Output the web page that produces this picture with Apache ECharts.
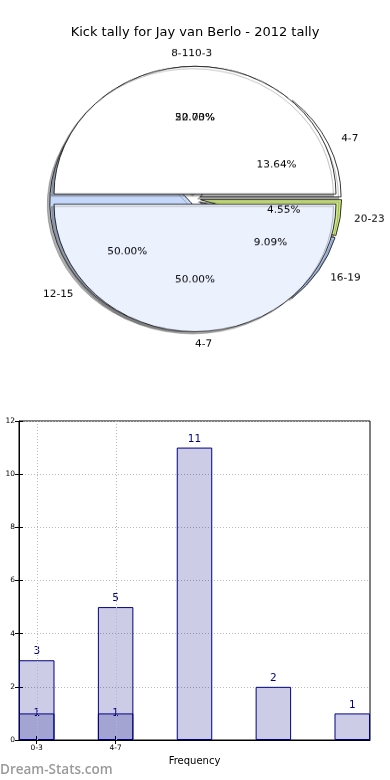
<!DOCTYPE html>
<html><head><meta charset="utf-8">
<script src="https://cdn.jsdelivr.net/npm/echarts@6/dist/echarts.min.js"></script>
<style>
html,body{margin:0;padding:0;background:#fff;}
#main{position:absolute;left:0;top:0;width:390px;height:780px;}
#pie{position:absolute;left:0;top:0;width:390px;height:400px;transform:scaleY(0.905);transform-origin:0 0;pointer-events:none;}
</style></head><body>
<div id="main"></div><div id="pie"></div>
<script>
// ---- data ----
const titleText = 'Kick tally for Jay van Berlo - 2012 tally';
const pieLabelsA = ['4-7', '8-11', '12-15', '16-19', '20-23'];
const pieValuesA = [3, 5, 11, 2, 1];
const pieLabelsB = ['0-3', '4-7'];
const pieValuesB = [1, 1];
const barValues = [3, 5, 11, 2, 1];
const barOverlayValues = [1, 1];
const xTickLabels = ['0-3', '4-7'];
const yMin = 0, yMax = 12, yStep = 2;
const xAxisName = 'Frequency';
const yAxisName = 'Times Kicked';
const watermark = 'Dream-Stats.com';

// ---- styles ----
const pieColorsA = ['#ffffff', '#ffffff', '#c5d8fb', '#b0c8f2', '#cfeb7f'];
const pieColorsB = ['#ffffff', '#ebf1fd'];
const FONT = 'DejaVu Sans';
const R = 141, CX = 195, CY = 199 / 0.905, EXPLODE = 5.6;
const barFill = 'rgba(0,0,128,0.2)';
const navy = '#000080';

// ---- pie chart ----
function sum(a){return a.reduce((s,v)=>s+v,0);}
function pieSeries(labels, values, colors, topAlign){
  const total = sum(values);
  return [{
    type:'pie', center:[CX, CY], radius:[0, R], startAngle:0, clockwise:false,
    selectedMode:'multiple', selectedOffset:EXPLODE, avoidLabelOverlap:false,
    labelLayout:function(p){
      const r = p.labelRect;
      if (Math.abs(r.x - CX) < 2 || Math.abs(r.x + r.width - CX) < 2) return {align: topAlign, hideOverlap:false};
      return {hideOverlap:false};
    },
    emphasis:{disabled:true}, animation:false, silent:true,
    data: labels.map((n,i)=>({name:n, value:values[i], selected:true,
      itemStyle:{color:colors[i]}})),
    itemStyle:{borderColor:'#000', borderWidth:0.8, shadowBlur:0.5, shadowOffsetX:-2.5, shadowOffsetY:2.5, shadowColor:'rgba(80,80,80,0.45)'},
    select:{itemStyle:{borderColor:'#000', borderWidth:0.8}},
    label:{show:true, position:'outside', formatter:'{b}', color:'#000', fontFamily:FONT, fontSize:10.5, distanceToLabelLine:0},
    labelLine:{show:false, length:R*0.1, length2:0}
  },{
    type:'pie', center:[CX, CY], radius:[0, R*1.15], startAngle:0, clockwise:false,
    selectedMode:'multiple', selectedOffset:EXPLODE, avoidLabelOverlap:false,
    labelLayout:{hideOverlap:false},
    emphasis:{disabled:true}, animation:false, silent:true, z:5,
    data: labels.map((n,i)=>({name:n, value:values[i], selected:true})),
    itemStyle:{color:'rgba(0,0,0,0)', borderWidth:0},
    select:{itemStyle:{color:'rgba(0,0,0,0)', borderWidth:0}},
    label:{show:true, position:'inside', color:'#000', fontFamily:FONT, fontSize:10.5,
      formatter:p=>(p.value/total*100).toFixed(2)+'%'},
    labelLine:{show:false}
  }];
}
const pieChart = echarts.init(document.getElementById('pie'), null, {renderer:'canvas'});
const psA = pieSeries(pieLabelsA, pieValuesA, pieColorsA, 'right');
const psB = pieSeries(pieLabelsB, pieValuesB, pieColorsB, 'left');
pieChart.setOption({animation:false, series:[psA[0], psB[0], psA[1], psB[1]]});

// ---- bar chart ----
const barWidthUnits = 0.45;
const xMaxVal = barValues.length - 1 + barWidthUnits;
const pos = i => i + barWidthUnits/2;
const tickPositions = xTickLabels.map((_,i)=>pos(i));
const gridLeft = 19, gridRight = 20, gridTop = 421, gridBottom = 40;
const plotW = 390 - gridLeft - gridRight;
const bw = plotW * barWidthUnits / xMaxVal;

const main = echarts.init(document.getElementById('main'), null, {renderer:'canvas'});
const xLabelFmt = v => { const k = tickPositions.findIndex(t=>Math.abs(t-v)<1e-6); return k>=0 ? xTickLabels[k] : ''; };
main.setOption({
  animation:false,
  title:{text:titleText, left:'center', top:21, textStyle:{fontFamily:FONT, fontSize:13, fontWeight:'normal', color:'#000'}},
  grid:{left:gridLeft, right:gridRight, top:gridTop, bottom:gridBottom, containLabel:false, outerBoundsMode:'none',
    show:true, borderColor:'#000', borderWidth:1, backgroundColor:'transparent'},
  xAxis:[{
    type:'value', min:0, max:xMaxVal, position:'bottom',
    name:xAxisName, nameLocation:'middle', nameGap:16, nameMoveOverlap:false,
    nameTextStyle:{fontFamily:FONT, fontSize:10, color:'#000'},
    axisLine:{show:true, lineStyle:{color:'#000', width:1}},
    axisTick:{show:true, inside:true, length:4, customValues:tickPositions, lineStyle:{color:'#000'}},
    axisLabel:{show:true, customValues:tickPositions, formatter:xLabelFmt, fontFamily:FONT, fontSize:7.5, color:'#000', margin:4},
    splitLine:{show:false}
  },{
    type:'value', min:0, max:xMaxVal, position:'top',
    axisLine:{show:false},
    axisTick:{show:true, inside:true, length:4, customValues:tickPositions, lineStyle:{color:'#000'}},
    axisLabel:{show:false}, splitLine:{show:false}
  }],
  yAxis:[{
    type:'value', min:yMin, max:yMax, interval:yStep,
    name:yAxisName, nameLocation:'middle', nameGap:22, nameMoveOverlap:false,
    nameTextStyle:{fontFamily:FONT, fontSize:10, color:'#000'},
    axisLine:{show:true, lineStyle:{color:'#000', width:1}},
    axisTick:{show:true, inside:true, length:4, lineStyle:{color:'#000'}},
    axisLabel:{fontFamily:FONT, fontSize:7.5, color:'#000', margin:4},
    splitLine:{show:true, lineStyle:{color:'#b8b8b8', type:[1,2], width:1}}
  },{
    type:'value', min:yMin, max:yMax, interval:yStep, position:'right',
    axisLine:{show:false},
    axisTick:{show:true, inside:true, length:4, lineStyle:{color:'#000'}},
    axisLabel:{show:false}, splitLine:{show:false}
  }],
  graphic:[{type:'text', left:0, top:763, silent:true,
    style:{text:watermark, fill:'#9a9a9a', font:'600 13.5px "Open Sans"'}}],
  series:[{
    type:'bar', xAxisIndex:0, yAxisIndex:0, barWidth:bw,
    data:barValues.map((v,i)=>[pos(i), v]),
    itemStyle:{color:barFill, borderColor:navy, borderWidth:1},
    label:{show:true, position:'top', distance:3, color:navy, fontFamily:FONT, fontSize:10.5, formatter:p=>p.value[1]},
    markLine:{silent:true, symbol:['none','none'], label:{show:false},
      lineStyle:{color:'#b8b8b8', type:[1,2], width:1},
      data:tickPositions.map(t=>({xAxis:t}))}
  },{
    type:'bar', xAxisIndex:0, yAxisIndex:0, barWidth:bw, barGap:'-100%',
    data:barOverlayValues.map((v,i)=>[pos(i), v]),
    itemStyle:{color:barFill, borderColor:navy, borderWidth:1},
    label:{show:true, position:['50%', 0], align:'center', verticalAlign:'middle', color:navy, fontFamily:FONT, fontSize:10.5, formatter:p=>p.value[1]}
  }]
});
</script></body></html>
